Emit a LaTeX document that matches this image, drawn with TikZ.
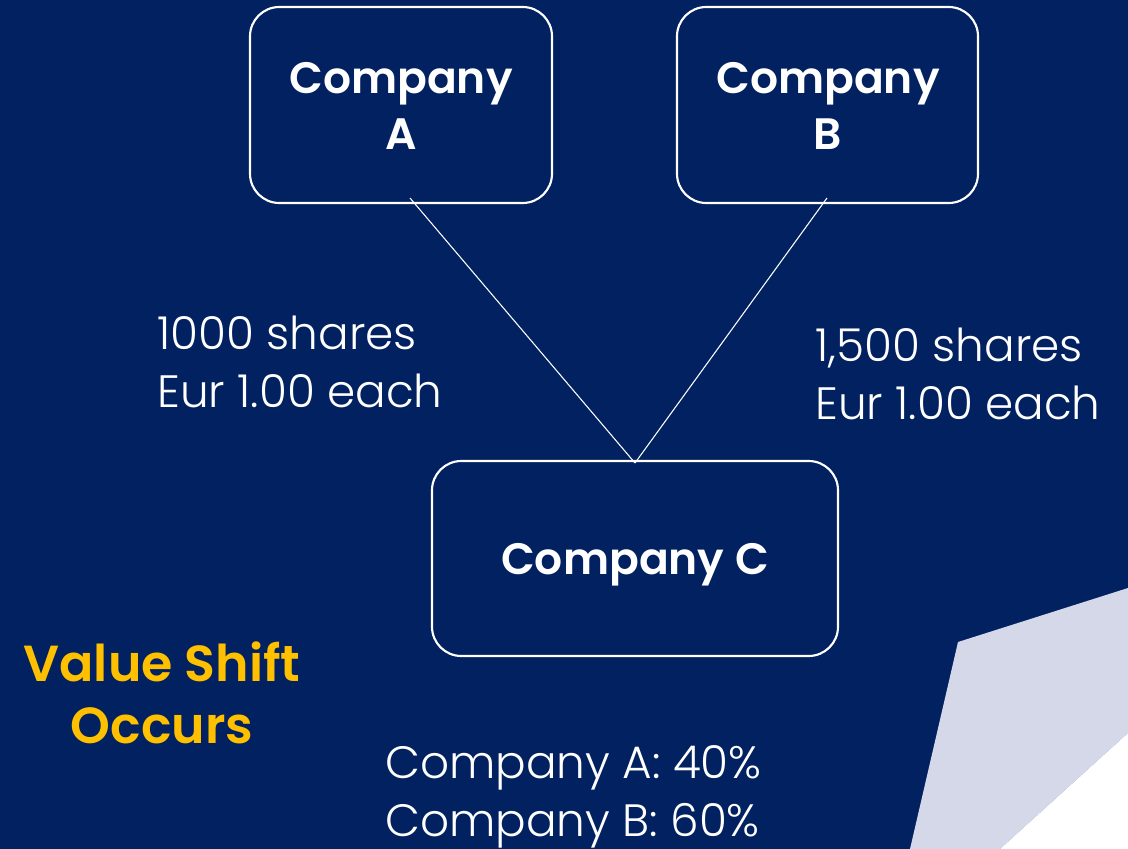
\documentclass[tikz,border=0pt]{standalone}
\usepackage{fontspec}
\setmainfont{Poppins}
\newfontfamily\lightfont{Poppins Light}
\newfontfamily\boldfont{Poppins SemiBold}
\definecolor{navy}{RGB}{2,33,96}
\definecolor{lav}{RGB}{212,216,232}
\definecolor{gold}{RGB}{255,192,0}
\begin{document}
\begin{tikzpicture}[x=0.75pt,y=-0.75pt,
  box/.style={draw=white,line width=1.6pt,rounded corners=22pt,fill=navy},
  btxt/.style={text=white,font=\boldfont\fontsize{33}{42}\selectfont,align=center},
  ltxt/.style={text=white,font=\lightfont\fontsize{34}{43}\selectfont,align=left,anchor=west,inner sep=0pt},
  link/.style={draw=white,line width=0.8pt}]
\fill[navy] (0,0) rectangle (1128,849);
\useasboundingbox (0,0) rectangle (1128,849);
\fill[lav] (958,642) -- (1128,588) -- (1128,733) -- (1000,849) -- (910,849) -- cycle;
\fill[white] (1128,733) -- (1000,849) -- (1128,849) -- cycle;
\draw[box] (250,7) rectangle (552,203);
\draw[box] (677,7) rectangle (978,203);
\draw[box] (432,461) rectangle (838,656);
\coordinate (aB) at (410,198);
\coordinate (bB) at (827,198);
\coordinate (cT) at (635,463);
\draw[link] (aB) -- (cT);
\draw[link] (bB) -- (cT);
\node[btxt] (ta) at (401,106) {Company\\A};
\node[btxt] (tb) at (828,106) {Company\\B};
\node[btxt] (tc) at (635,565) {Company C};
\node[ltxt] (sa) at (157,362) {1000 shares\\Eur 1.00 each};
\node[ltxt] (sb) at (815,374) {1,500 shares\\Eur 1.00 each};
\node[btxt,text=gold,font=\boldfont\fontsize{38}{46.5}\selectfont] (vs) at (162,693) {Value Shift\\Occurs};
\node[ltxt] (pc) at (385,797) {Company A: 40\%\\Company B: 60\%};
\end{tikzpicture}
\end{document}
